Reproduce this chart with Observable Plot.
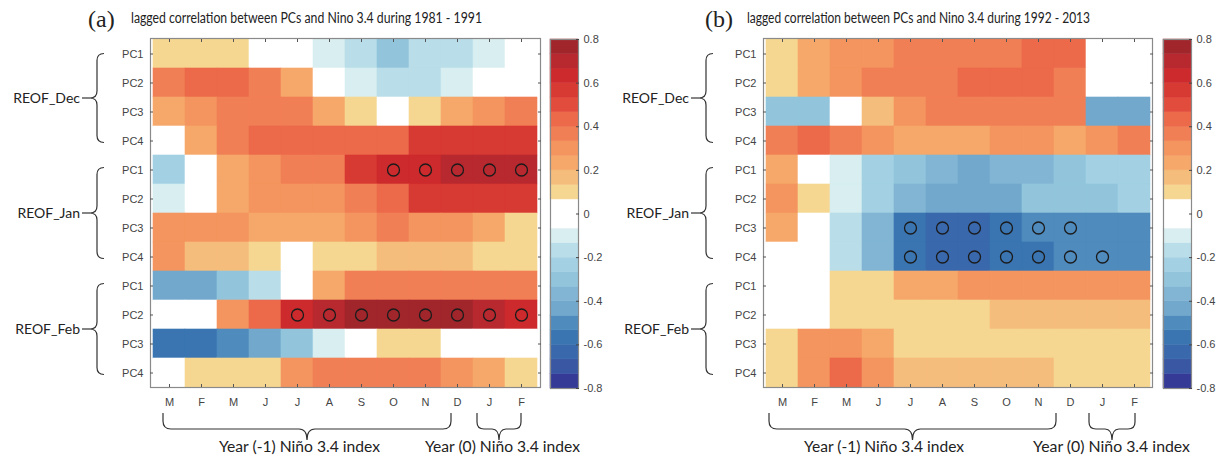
<!DOCTYPE html>
<html><head><meta charset="utf-8">
<script src="https://cdn.jsdelivr.net/npm/d3@7"></script>
<script src="https://cdn.jsdelivr.net/npm/@observablehq/plot@0.6"></script>
<style>
body{margin:0;background:#fff;}
#fig{position:relative;width:1222px;height:461px;overflow:hidden;background:#fff;}
#fig > div{position:absolute;top:0;}
svg{display:block;}
</style></head><body><div id="fig"></div>
<script>
// ---------- data ----------
const months = ["M","F","M","J","J","A","S","O","N","D","J","F"];
const groups = ["REOF_Dec","REOF_Jan","REOF_Feb"];
const pcs = ["PC1","PC2","PC3","PC4"];
const titleA = "lagged correlation between PCs and Nino 3.4 during 1981 - 1991";
const titleB = "lagged correlation between PCs and Nino 3.4 during 1992 - 2013";
const panelTags = ["(a)","(b)"];
const yearLabels = ["Year (-1) Niño 3.4 index","Year (0) Niño 3.4 index"];

// panel (a) 1981-1991 : rows PC1..PC4, columns M F M J J A S O N D J F
const aDec = [
  [0.10,0.10,0.10,0.00,0.00,-0.10,-0.19,-0.30,-0.19,-0.19,-0.10,0.00],
  [0.37,0.43,0.43,0.37,0.21,0.00,-0.10,-0.17,-0.17,-0.10,0.00,0.00],
  [0.21,0.30,0.37,0.37,0.37,0.21,0.10,0.00,0.10,0.21,0.30,0.37],
  [0.00,0.21,0.37,0.43,0.43,0.43,0.43,0.43,0.55,0.55,0.55,0.55]
];
const aJan = [
  [-0.24,0.00,0.21,0.30,0.37,0.37,0.55,0.63,0.66,0.71,0.71,0.71],
  [-0.10,0.00,0.21,0.30,0.30,0.30,0.37,0.41,0.55,0.55,0.55,0.55],
  [0.30,0.30,0.30,0.20,0.20,0.20,0.30,0.37,0.30,0.30,0.20,0.10],
  [0.30,0.17,0.17,0.10,0.00,0.10,0.10,0.17,0.17,0.17,0.10,0.10]
];
const aFeb = [
  [-0.43,-0.43,-0.30,-0.17,0.00,0.20,0.35,0.38,0.38,0.38,0.38,0.38],
  [0.00,0.00,0.30,0.43,0.63,0.70,0.77,0.77,0.77,0.77,0.70,0.63],
  [-0.59,-0.59,-0.52,-0.43,-0.30,-0.10,0.00,0.10,0.10,0.00,0.00,0.00],
  [0.00,0.10,0.10,0.10,0.27,0.38,0.38,0.38,0.38,0.32,0.25,0.10]
];
// panel (b) 1992-2013
const bDec = [
  [0.10,0.21,0.31,0.31,0.38,0.38,0.38,0.38,0.43,0.43,0.00,0.00],
  [0.10,0.21,0.27,0.34,0.38,0.38,0.43,0.43,0.43,0.38,0.00,0.00],
  [-0.30,-0.30,0.00,0.19,0.32,0.38,0.38,0.38,0.38,0.38,-0.42,-0.42],
  [0.38,0.43,0.38,0.32,0.25,0.25,0.25,0.32,0.32,0.25,0.32,0.38]
];
const bJan = [
  [0.21,0.00,-0.10,-0.22,-0.30,-0.36,-0.43,-0.37,-0.37,-0.30,-0.22,-0.22],
  [0.30,0.10,-0.10,-0.22,-0.38,-0.43,-0.43,-0.43,-0.30,-0.30,-0.30,-0.25],
  [0.21,0.00,-0.19,-0.38,-0.57,-0.62,-0.62,-0.57,-0.52,-0.52,-0.47,-0.47],
  [0.00,0.00,-0.19,-0.37,-0.57,-0.62,-0.62,-0.57,-0.57,-0.52,-0.52,-0.47]
];
const bFeb = [
  [0.00,0.00,0.10,0.10,0.21,0.21,0.28,0.28,0.28,0.28,0.28,0.28],
  [0.00,0.00,0.10,0.10,0.10,0.10,0.10,0.19,0.19,0.19,0.19,0.19],
  [0.10,0.28,0.28,0.21,0.10,0.10,0.10,0.10,0.10,0.10,0.10,0.10],
  [0.10,0.33,0.43,0.33,0.19,0.19,0.19,0.19,0.19,0.10,0.10,0.10]
];
// significant cells (open circles): [group, pc index, column indices]
const sigA = [["REOF_Jan",0,[7,8,9,10,11]],["REOF_Feb",1,[4,5,6,7,8,9,10,11]]];
const sigB = [["REOF_Jan",2,[4,5,6,7,8,9]],["REOF_Jan",3,[4,5,6,7,8,9,10]]];

// colour bar: level boundaries and colours (blue -> white -> red)
const levels = [-0.8,-0.7333,-0.6667,-0.6,-0.5333,-0.4667,-0.4,-0.3333,-0.2667,-0.2,-0.1333,-0.0667,
                0.0667,0.1333,0.2,0.2667,0.3333,0.4,0.4667,0.5333,0.6,0.6667,0.7333,0.8];
const levelColors = ["#343a96","#3a57a3","#3a68ac","#3a75b1","#4f8bbd","#72a8cc","#82b5d4","#92c5dc","#a3d0e3","#b9dde9","#d8eef0",
                     "#ffffff",
                     "#f6d792","#f5bd7c","#f5a86a","#f4955f","#f17f56","#ec6a4a","#e24c3c","#d73a33","#cc2a2d","#b8282f","#a0262c"];
const cbTicks = [-0.8,-0.6,-0.4,-0.2,0,0.2,0.4,0.6,0.8];

// ---------- helpers ----------
const colorScale = {type:"threshold", domain: levels.slice(1,-1), range: levelColors};
const rowKeys = groups.flatMap(g => pcs.map(p => g + "|" + p));
function tidy(sets){
  const out = [];
  groups.forEach((g,gi) => sets[gi].forEach((row,pi) => row.forEach((v,ci) =>
    out.push({row: g + "|" + pcs[pi], col: ci, value: v}))));
  return out;
}
function sigRows(sig){
  return sig.flatMap(([g,pi,cols]) => cols.map(c => ({row: g + "|" + pcs[pi], col: c})));
}
const H = 461, MT = 38, MB = 74;
const fig = document.getElementById("fig");
const sans = "'Liberation Sans', Arial, sans-serif";
const cal = "Lato, 'Open Sans', sans-serif";

function vBrace(xm, y0, y1, w, r){
  const ym = (y0+y1)/2;
  return `M${xm+w},${y0} Q${xm},${y0} ${xm},${y0+r} L${xm},${ym-r} Q${xm},${ym} ${xm-w},${ym} Q${xm},${ym} ${xm},${ym+r} L${xm},${y1-r} Q${xm},${y1} ${xm+w},${y1}`;
}
function hBrace(x0, x1, y0, yh, yt, r){
  const xm = (x0+x1)/2;
  return `M${x0},${y0} L${x0},${yh-r} Q${x0},${yh} ${x0+r},${yh} L${xm-r},${yh} Q${xm},${yh} ${xm},${yt} Q${xm},${yh} ${xm+r},${yh} L${x1-r},${yh} Q${x1},${yh} ${x1},${yh-r} L${x1},${y0}`;
}

function panel(opts){
  const {left, width, ml, mr, sets, sig, tag, title, tagX, titleX, titleW, groupShift, yearX, yearW, brace1, brace2} = opts;
  const div = document.createElement("div");
  div.style.left = left + "px";
  const plot = Plot.plot({
    width, height: H,
    marginLeft: ml, marginRight: mr, marginTop: MT, marginBottom: MB,
    x: {type:"band", domain: d3.range(12), padding: 0, axis: null},
    y: {type:"band", domain: rowKeys, padding: 0, axis: null},
    color: colorScale,
    style: {fontFamily: sans, fontSize: "11px", color: "#444", background: "transparent"},
    marks: [
      Plot.cell(tidy(sets), {x:"col", y:"row", fill:"value", stroke:"value", strokeWidth:0.6, inset:0}),
      Plot.dot(sigRows(sig), {x:"col", y:"row", r:6, stroke:"#1b1b1b", strokeWidth:1.3, fill:"none"}),
      Plot.frame({stroke:"#8a8a8a", strokeWidth:1.2}),
      Plot.axisX({anchor:"bottom", label:null, tickSize:-3, tickPadding:14, tickFormat: i => months[i], stroke:"#555", fill:"#444", fontSize:11}),
      Plot.axisX({anchor:"top", label:null, tickSize:-3, tickFormat: () => "", stroke:"#555"}),
      Plot.axisY({anchor:"left", label:null, tickSize:-3, tickPadding:10, tickFormat: k => k.split("|")[1], stroke:"#555", fill:"#444", fontSize:11}),
      Plot.axisY({anchor:"right", label:null, tickSize:-3, tickFormat: () => "", stroke:"#555"})
    ]
  });
  div.appendChild(plot);
  fig.appendChild(div);
  const svg = d3.select(plot);
  const x = plot.scale("x"), y = plot.scale("y");
  const bw = x.bandwidth, bh = y.bandwidth;
  const g = svg.append("g").attr("fill","none").attr("stroke","#333").attr("stroke-width",1.2);
  const t = svg.append("g").attr("fill","#222").attr("font-family", cal).attr("text-anchor","start");
  // title
  t.append("text").attr("x", tagX).attr("y", 27).attr("font-family","'Liberation Serif', 'DejaVu Serif', serif")
    .attr("font-size", 24).text(tag);
  t.append("text").attr("x", titleX).attr("y", 23).attr("font-size", 14.5)
    .attr("textLength", titleW).attr("lengthAdjust","spacingAndGlyphs").text(title);
  // group braces + labels
  groups.forEach((gr, gi) => {
    const yTop = y.apply(gr + "|PC1") + bh/2 - 2 + (gi === 0 ? 2 : 0);
    const yBot = y.apply(gr + "|PC4") + bh/2 + 2;
    const xm = ml - 53 + groupShift;
    g.append("path").attr("d", vBrace(xm, yTop, yBot, 7, 7));
    g.append("line").attr("x1", xm - 15).attr("x2", xm - 7).attr("y1", (yTop+yBot)/2).attr("y2", (yTop+yBot)/2);
    t.append("text").attr("x", xm - 17).attr("y", (yTop+yBot)/2).attr("dy","0.35em")
      .attr("text-anchor","end").attr("font-size", 14).text(gr);
  });
  // bottom braces
  const cx = i => x.apply(i) + bw/2;
  const y0 = H - MB + 26, yh = H - MB + 42, yt = H - MB + 53;
  g.append("path").attr("d", hBrace(cx(0) + brace1[0], cx(9) + brace1[1], y0, yh, yt, 8));
  g.append("path").attr("d", hBrace(cx(10) + brace2[0], cx(11) + brace2[1], y0, yh, yt, 7));
  yearLabels.forEach((lab, i) => {
    t.append("text").attr("x", yearX[i]).attr("y", H - 9).attr("font-size", 14.5)
      .attr("textLength", yearW[i]).attr("lengthAdjust","spacingAndGlyphs").text(lab);
  });
}

function colorbar(left){
  const div = document.createElement("div");
  div.style.left = left + "px";
  const cbRects = [];
  for (let i = 0; i < levels.length - 1; i++) cbRects.push({lo: levels[i], hi: levels[i+1], mid: (levels[i]+levels[i+1])/2});
  const plot = Plot.plot({
    width: 60, height: H,
    marginLeft: 1, marginRight: 31, marginTop: MT + 1, marginBottom: MB - 1,
    x: {domain:[0,1], axis:null},
    y: {domain:[-0.8,0.8], axis:null},
    color: colorScale,
    style: {fontFamily: sans, fontSize: "11px", color:"#444", background:"transparent"},
    marks: [
      Plot.rect(cbRects, {x1:0, x2:1, y1:"lo", y2:"hi", fill:"mid", stroke:"mid", strokeWidth:0.5}),
      Plot.frame({stroke:"#8a8a8a", strokeWidth:1.2}),
      Plot.axisY({anchor:"right", label:null, ticks: cbTicks, tickSize:-3, tickPadding:8, tickFormat: d => d === 0 ? "0" : d.toFixed(1), stroke:"#444", fill:"#444", fontSize:11})
    ]
  });
  div.appendChild(plot);
  fig.appendChild(div);
}

panel({left:0, width:600, ml:150, mr:60, sets:[aDec,aJan,aFeb], sig:sigA, tag:panelTags[0], title:titleA,
       tagX:88, titleX:131, titleW:351, groupShift:0, yearX:[219,425], yearW:[161,155], brace1:[-6,-6], brace2:[-12,0]});
colorbar(549);
panel({left:611, width:611, ml:152, mr:70, sets:[bDec,bJan,bFeb], sig:sigB, tag:panelTags[1], title:titleB,
       tagX:94, titleX:136, titleW:343, groupShift:-4, yearX:[193,422], yearW:[160,157], brace1:[-13,-14], brace2:[-13,1]});
colorbar(1162);
</script></body></html>
